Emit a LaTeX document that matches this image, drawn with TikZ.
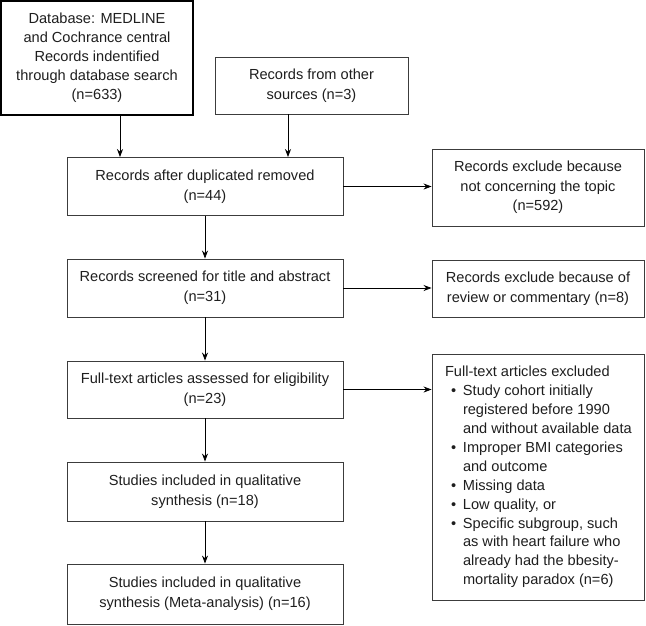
\documentclass[tikz,border=0pt]{standalone}
\usepackage{fontspec}
\setmainfont{Liberation Sans}
\usetikzlibrary{arrows.meta}
\definecolor{txt}{HTML}{1E1E1E}
\definecolor{bord}{HTML}{3C3C3C}
\newcommand{\bitem}{\par\hangindent=21pt\hangafter=1\hspace*{9pt}\makebox[12pt][l]{\textbullet}}
\tikzset{
  box/.style={draw=bord, line width=0.9pt, inner sep=0pt, align=center, text=txt,
    font=\fontsize{14.6}{19.6}\selectfont},
  arr/.style={draw=black, line width=0.8pt, -{Stealth[length=8pt,width=6pt]}}
}
\begin{document}
\begin{tikzpicture}[x=1pt,y=-1pt]
\useasboundingbox (0,0) rectangle (646,625);
\node[box, draw=black, line width=1.2pt, minimum width=192, minimum height=114, font=\fontsize{14.6}{19}\selectfont] (db) at (97,58)
  {Database: MEDLINE\\and Cochrance central\\Records indentified\\through database search\\(n=633)};
\node[box, minimum width=193, minimum height=57] (oth) at (311.5,85.5)
  {Records from other\\sources (n=3)};
\node[box, minimum width=276, minimum height=58] (dup) at (205,186.5)
  {Records after duplicated removed\\(n=44)};
\node[box, minimum width=212, minimum height=77] (ex1) at (538,187.5)
  {Records exclude because\\not concerning the topic\\(n=592)};
\node[box, minimum width=276, minimum height=58] (scr) at (205,288)
  {Records screened for title and abstract\\(n=31)};
\node[box, minimum width=212, minimum height=57] (ex2) at (538,288.5)
  {Records exclude because of\\review or commentary (n=8)};
\node[box, minimum width=276, minimum height=57] (ft) at (205,389.5)
  {Full-text articles assessed for eligibility\\(n=23)};
\node[box, minimum width=212, minimum height=246, align=left] (ex3) at (538,477)
  {\parbox{192pt}{\raggedright\fontsize{14.6}{18.9}\selectfont
  \hspace*{3pt}Full-text articles excluded
  \bitem Study cohort initially\newline registered before 1990\newline and without available data
  \bitem Improper BMI categories\newline and outcome
  \bitem Missing data
  \bitem Low quality, or
  \bitem Specific subgroup, such\newline as with heart failure who\newline already had the bbesity-\newline mortality paradox (n=6)\par}};
\node[box, minimum width=276, minimum height=59] (s18) at (205,491.5)
  {Studies included in qualitative\\synthesis (n=18)};
\node[box, minimum width=276, minimum height=60] (s16) at (205,594)
  {Studies included in qualitative\\synthesis (Meta-analysis) (n=16)};
\coordinate (xa) at (120,0);
\coordinate (xb) at (288,0);
\draw[arr] (db.south -| xa) -- (dup.north -| xa);
\draw[arr] (oth.south -| xb) -- (dup.north -| xb);
\draw[arr] (dup.east) -- (dup.east -| ex1.west);
\draw[arr] (dup.south) -- (scr.north);
\draw[arr] (scr.east) -- (scr.east -| ex2.west);
\draw[arr] (scr.south) -- (ft.north);
\draw[arr] (ft.east) -- (ft.east -| ex3.west);
\draw[arr] (ft.south) -- (s18.north);
\draw[arr] (s18.south) -- (s16.north);
\end{tikzpicture}
\end{document}
